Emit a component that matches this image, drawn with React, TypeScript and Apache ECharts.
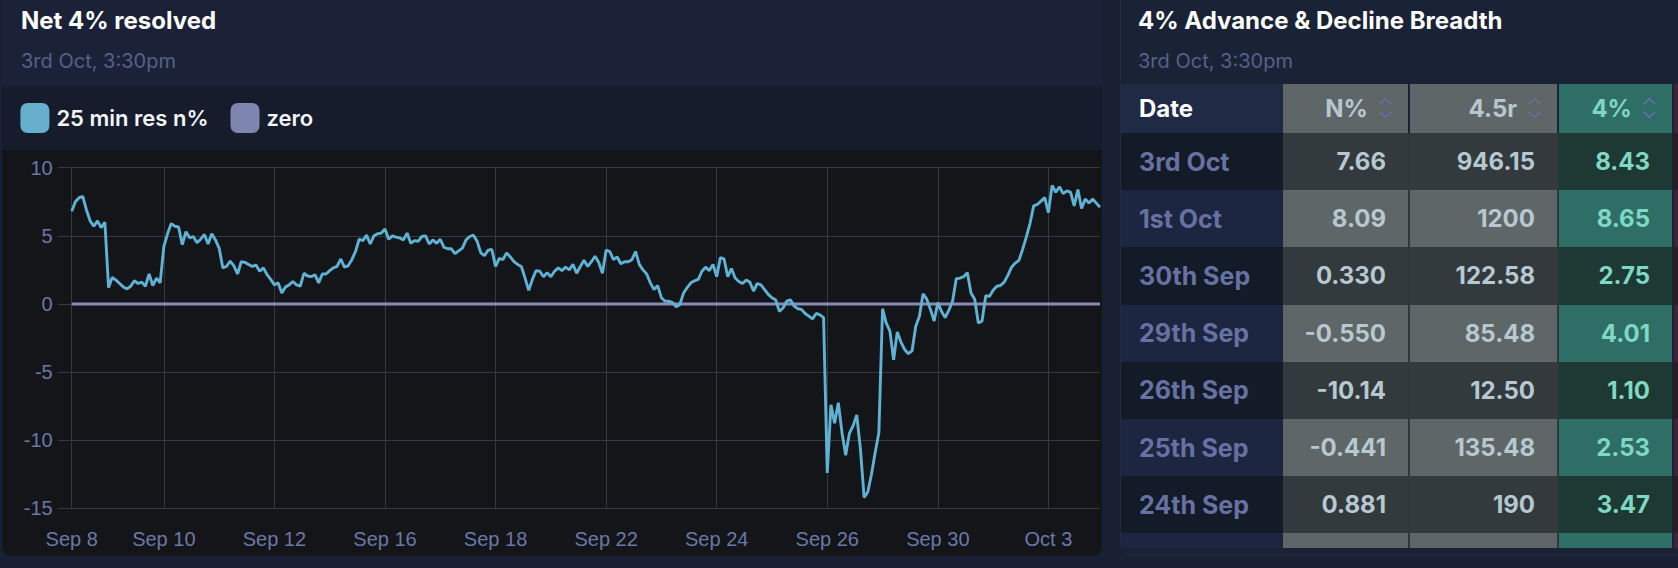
import React, { useEffect, useRef } from "react";
import * as echarts from "echarts";

// ---- chart data (25-min resolution, per trading day) ----
const sep08 = [6.8, 7.5, 7.8, 7.9, 6.9, 6.1, 5.7, 6.1, 5.6, 6.0];
const sep09 = [1.2, 1.95, 1.75, 1.5, 1.25, 1.1, 1.3, 1.7, 1.5, 1.6, 1.3, 2.2, 1.35, 1.9, 1.55];
const sep10 = [4.2, 5.15, 5.9, 5.7, 5.65, 4.35, 5.3, 4.85, 4.95, 4.5, 4.75, 5.1, 4.4, 5.15, 4.7];
const sep11 = [4.1, 2.65, 2.75, 3.15, 2.8, 2.2, 3.1, 3.05, 2.9, 2.75, 2.85, 2.4, 2.65, 2.15, 1.8];
const sep12 = [1.4, 1.55, 0.8, 1.25, 1.4, 1.65, 1.4, 1.3, 2.25, 2.05, 2.0, 2.15, 1.55, 2.2, 2.2];
const sep15 = [2.45, 2.65, 2.75, 3.3, 2.7, 2.8, 3.25, 3.85, 4.75, 4.65, 5.05, 4.4, 5.0, 5.15, 5.2];
const sep16 = [5.5, 4.75, 5.0, 4.9, 4.85, 4.7, 5.2, 4.45, 4.65, 4.6, 4.95, 5.0, 4.4, 4.7, 4.45];
const sep17 = [4.75, 4.15, 4.05, 4.05, 3.7, 3.9, 4.1, 4.7, 4.95, 5.05, 4.6, 3.75, 3.55, 3.95, 4.0];
const sep18 = [2.75, 3.35, 3.25, 3.75, 3.45, 3.1, 2.9, 2.75, 1.9, 1.0, 1.8, 2.45, 2.4, 2.0, 2.3];
const sep19 = [2.0, 2.4, 2.65, 2.45, 2.7, 2.5, 2.9, 2.25, 2.75, 3.2, 2.75, 3.1, 3.5, 3.05, 2.25];
const sep22 = [3.95, 3.85, 3.25, 3.45, 2.95, 3.1, 3.1, 3.25, 3.85, 2.9, 2.5, 2.2, 1.55, 1.05, 1.35];
const sep23 = [0.45, 0.2, 0.2, 0.1, -0.2, -0.05, 0.8, 1.2, 1.55, 1.7, 1.8, 2.4, 2.7, 2.45, 2.9];
const sep24 = [2.0, 3.4, 3.3, 2.0, 2.6, 1.9, 1.65, 1.5, 1.75, 1.6, 0.95, 1.5, 1.4, 1.05, 0.7];
const sep25 = [0.45, 0.3, -0.55, -0.3, 0.2, 0.3, -0.15, -0.35, -0.4, -0.7, -0.9, -1.1, -0.7, -0.8, -1.0];
const sep26 = [-12.4, -7.4, -8.75, -7.25, -9.45, -11.1, -9.5, -8.95, -8.15, -10.65, -14.2, -13.8, -12.5, -10.9, -9.45];
const sep29 = [-0.35, -1.4, -2.0, -4.1, -2.05, -2.8, -3.35, -3.65, -3.45, -1.65, -0.9, 0.75, 0.35, -0.4, -1.25];
const sep30 = [0.1, -0.55, -1.0, -0.45, 0.2, 1.85, 1.9, 2.0, 2.3, 0.8, 0.35, -1.4, -1.25, 0.6, 0.55];
const oct01 = [1.0, 1.3, 1.35, 1.6, 2.1, 2.7, 3.0, 3.2, 4.0, 4.9, 5.9, 7.2, 7.3, 7.55, 7.8];
const oct03 = [6.7, 8.7, 8.2, 8.6, 8.1, 8.3, 8.2, 7.2, 8.4, 7.0, 7.7, 7.4, 7.7, 7.4, 7.1];

const tradingDays = [
  "Sep 8", "Sep 9", "Sep 10", "Sep 11", "Sep 12", "Sep 15", "Sep 16", "Sep 17", "Sep 18", "Sep 19",
  "Sep 22", "Sep 23", "Sep 24", "Sep 25", "Sep 26", "Sep 29", "Sep 30", "Oct 1", "Oct 3",
];
const dayValues = [
  sep08, sep09, sep10, sep11, sep12, sep15, sep16, sep17, sep18, sep19,
  sep22, sep23, sep24, sep25, sep26, sep29, sep30, oct01, oct03,
];
const sessionTimes = [
  "09:40", "10:05", "10:30", "10:55", "11:20", "11:45", "12:10", "12:35",
  "13:00", "13:25", "13:50", "14:15", "14:40", "15:05", "15:30",
];
const tickDays = ["Sep 8", "Sep 10", "Sep 12", "Sep 16", "Sep 18", "Sep 22", "Sep 24", "Sep 26", "Sep 30", "Oct 3"];
const yMin = -15;
const yMax = 10;
const yStep = 5;

const seriesMainName = "25 min res n%";
const seriesZeroName = "zero";

// ---- table data ----
const tableDates = ["3rd Oct", "1st Oct", "30th Sep", "29th Sep", "26th Sep", "25th Sep", "24th Sep"];
const colNPct = ["7.66", "8.09", "0.330", "-0.550", "-10.14", "-0.441", "0.881"];
const col45r = ["946.15", "1200", "122.58", "85.48", "12.50", "135.48", "190"];
const col4Pct = ["8.43", "8.65", "2.75", "4.01", "1.10", "2.53", "3.47"];
const tableHeaders = ["Date", "N%", "4.5r", "4%"];

// build category axis
const categories: string[] = [];
const netValues: number[] = [];
const tickIndices = new Set<number>();
tradingDays.forEach((day, d) => {
  const vals = dayValues[d];
  const offset = sessionTimes.length - vals.length;
  vals.forEach((v, i) => {
    if (i === 0 && tickDays.includes(day)) tickIndices.add(categories.length);
    categories.push(`${day} ${sessionTimes[offset + i]}`);
    netValues.push(v);
  });
});
const zeroValues = categories.map(() => 0);

const GRID = "#35383f";
const AXIS_TXT = "#6b78a8";

function Chart() {
  const ref = useRef<HTMLDivElement>(null);
  useEffect(() => {
    if (!ref.current) return;
    const chart = echarts.init(ref.current, null, { renderer: "svg" });
    const showTick = (idx: number) => tickIndices.has(idx);
    chart.setOption({
      animation: false,
      backgroundColor: "transparent",
      textStyle: { fontFamily: "Inter" },
      legend: {
        data: [seriesMainName, seriesZeroName],
        left: 13.4,
        top: 12,
        icon: "roundRect",
        itemWidth: 29,
        itemHeight: 30,
        itemGap: 22,
        selectedMode: false,
        textStyle: {
          color: "#f3f5f8",
          fontSize: 22,
          fontWeight: 600,
          fontFamily: "Inter",
          padding: [0, 0, 0, 2],
        },
      },
      grid: { left: 69.7, right: 2, top: 81.7, bottom: 47.7, containLabel: false },
      xAxis: {
        type: "category",
        data: categories,
        boundaryGap: false,
        axisLine: { show: false },
        axisTick: { show: true, length: 13, interval: showTick, lineStyle: { color: GRID } },
        axisLabel: {
          interval: showTick,
          formatter: (v: string) => v.split(" ").slice(0, 2).join(" "),
          color: AXIS_TXT,
          fontSize: 20,
          fontFamily: "Liberation Sans",
          margin: 21,
        },
        splitLine: { show: true, interval: showTick, lineStyle: { color: GRID, width: 1 } },
      },
      yAxis: {
        type: "value",
        min: yMin,
        max: yMax,
        interval: yStep,
        axisLine: { show: false },
        axisTick: { show: true, length: 14, lineStyle: { color: GRID } },
        axisLabel: { color: AXIS_TXT, fontSize: 20, fontFamily: "Liberation Sans", margin: 19 },
        splitLine: { show: true, lineStyle: { color: GRID, width: 1 } },
      },
      series: [
        {
          name: seriesZeroName,
          type: "line",
          data: zeroValues,
          showSymbol: false,
          symbol: "none",
          silent: true,
          z: 1,
          lineStyle: { color: "#8b8ab6", width: 3 },
          itemStyle: { color: "#7e85ae" },
        },
        {
          name: seriesMainName,
          type: "line",
          data: netValues,
          showSymbol: false,
          symbol: "none",
          z: 2,
          lineStyle: { color: "#5fb2d4", width: 2.9 },
          itemStyle: { color: "#65afcc" },
        },
      ],
    });
    return () => chart.dispose();
  }, []);
  return <div ref={ref} style={{ position: "absolute", left: 0, top: 98, width: 1100, height: 470 }} />;
}

function SortIcon() {
  return (
    <svg width={13} height={20} viewBox="0 0 13 20" style={{ marginLeft: 11, flex: "none" }}>
      <polyline points="0.8,6 6.5,0.8 12.2,6" fill="none" stroke="#6a6ea8" strokeWidth={1.6} />
      <polyline points="0.8,14 6.5,19.2 12.2,14" fill="none" stroke="#6a6ea8" strokeWidth={1.6} />
    </svg>
  );
}

const COLS = [
  { left: 1120, width: 163, head: "#1f2a45", dark: "#131a28", light: "#1c2640", txt: "#6772a2" },
  { left: 1283, width: 125, head: "#5f6668", dark: "#323a3e", light: "#5f6667", txt: "#b8c8d1" },
  { left: 1410, width: 147, head: "#5f6668", dark: "#323a3e", light: "#5f6667", txt: "#b8c8d1" },
  { left: 1559, width: 113, head: "#2f6e66", dark: "#1e3833", light: "#2e6e66", txt: "#7ed8c3" },
  { left: 1674, width: 40, head: "#3d2535", dark: "#2a1c24", light: "#3d2535", txt: "#c88" },
];

function Table() {
  const PX = 1120; // panel left
  const headTop = 84;
  const headH = 48.5;
  const rowTop = 133;
  const rowH = 57.2;
  const clipBottom = 548;
  const cells: React.ReactNode[] = [];
  COLS.forEach((c, ci) => {
    const label = tableHeaders[ci];
    cells.push(
      <div
        key={`h${ci}`}
        style={{
          position: "absolute",
          left: c.left - PX,
          top: headTop,
          width: c.width,
          height: headH,
          background: c.head,
          display: "flex",
          alignItems: "center",
          justifyContent: ci === 0 ? "flex-start" : "flex-end",
          paddingLeft: ci === 0 ? 19 : 0,
          paddingRight: ci === 0 ? 0 : 16,
          boxSizing: "border-box",
          fontWeight: 700,
          fontSize: 24,
          color: ci === 0 ? "#ffffff" : ci === 3 ? "#7fd6c2" : "#b7c7d0",
        }}
      >
        {label !== undefined && <span>{label}</span>}
        {ci > 0 && ci < 4 && <SortIcon />}
      </div>
    );
  });
  const rowCount = tableDates.length + 1;
  for (let r = 0; r < rowCount; r++) {
    const top = rowTop + r * rowH;
    const light = r % 2 === 1;
    const vals = r < tableDates.length ? [tableDates[r], colNPct[r], col45r[r], col4Pct[r]] : [];
    cells.push(
      <div
        key={`strip${r}`}
        style={{
          position: "absolute",
          left: 1283 - PX,
          top,
          width: 1672 - 1283,
          height: Math.min(rowH, clipBottom - top),
          background: "#30383c",
        }}
      />
    );
    COLS.forEach((c, ci) => {
      const v = vals[ci];
      cells.push(
        <div
          key={`c${r}_${ci}`}
          style={{
            position: "absolute",
            left: c.left - PX,
            top,
            width: c.width,
            height: Math.min(rowH, clipBottom - top),
            background: light ? c.light : c.dark,
            display: "flex",
            alignItems: "center",
            justifyContent: ci === 0 ? "flex-start" : "flex-end",
            paddingLeft: ci === 0 ? 19 : 0,
            paddingRight: ci === 0 ? 0 : 22,
            boxSizing: "border-box",
            fontWeight: 700,
            fontSize: ci === 0 ? 25 : 24,
            color: c.txt,
            overflow: "hidden",
          }}
        >
          {v !== undefined && <span>{v}</span>}
        </div>
      );
    });
  }
  return <>{cells}</>;
}

export default function App() {
  return (
    <div
      style={{
        position: "fixed",
        left: 0,
        top: 0,
        width: 1678,
        height: 568,
        background: "#192034",
        overflow: "hidden",
        fontFamily: "Inter, 'Noto Sans', sans-serif",
      }}
    >
      {/* left panel */}
      <div
        style={{
          position: "absolute",
          left: 2,
          top: -12,
          width: 1100,
          height: 568,
          background: "#131519",
          borderRadius: 10,
          overflow: "hidden",
        }}
      >
        <div style={{ position: "absolute", left: 0, top: 0, width: 1100, height: 98, background: "#1b2237" }} />
        <div style={{ position: "absolute", left: 0, top: 98, width: 1100, height: 64, background: "#161c2b" }} />
        <div
          style={{
            position: "absolute",
            left: 19,
            top: 17.5,
            lineHeight: "30px",
            fontSize: 24,
            fontWeight: 700,
            color: "#ffffff",
            whiteSpace: "nowrap",
          }}
        >
          Net 4% resolved
        </div>
        <div
          style={{
            position: "absolute",
            left: 19,
            top: 61,
            lineHeight: "24px",
            fontSize: 20,
            fontWeight: 400,
            color: "#55618b",
            whiteSpace: "nowrap",
          }}
        >
          3rd Oct, 3:30pm
        </div>
        <Chart />
      </div>

      {/* right panel */}
      <div
        style={{
          position: "absolute",
          left: 1120,
          top: -12,
          width: 620,
          height: 568,
          background: "#1a2236",
          borderRadius: 10,
          overflow: "hidden",
        }}
      >
        <div
          style={{
            position: "absolute",
            left: 18,
            top: 17.5,
            lineHeight: "30px",
            fontSize: 24,
            fontWeight: 700,
            color: "#ffffff",
            whiteSpace: "nowrap",
          }}
        >
          {"4% Advance & Decline Breadth"}
        </div>
        <div
          style={{
            position: "absolute",
            left: 18,
            top: 61,
            lineHeight: "24px",
            fontSize: 20,
            fontWeight: 400,
            color: "#55618b",
            whiteSpace: "nowrap",
          }}
        >
          3rd Oct, 3:30pm
        </div>
        <div style={{ position: "absolute", left: 0, top: 12, width: 620, height: 556 }}>
          <Table />
        </div>
        <div
          style={{
            position: "absolute",
            inset: 0,
            borderRadius: 10,
            border: "1px solid #232b41",
            pointerEvents: "none",
          }}
        />
      </div>
    </div>
  );
}
